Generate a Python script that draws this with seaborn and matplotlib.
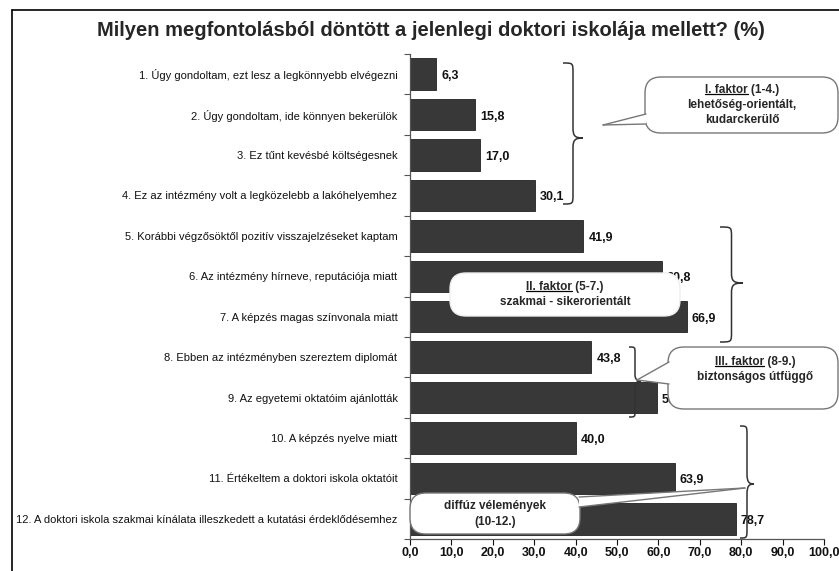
import matplotlib
matplotlib.use("Agg")
import matplotlib.pyplot as plt
import pandas as pd
import seaborn as sns
from matplotlib.path import Path as MPath
from matplotlib.patches import PathPatch, FancyBboxPatch, Polygon
from matplotlib.lines import Line2D
from matplotlib.transforms import Affine2D, IdentityTransform

# =========================
# Adatok
# =========================

labels = [
    "1. Úgy gondoltam, ezt lesz a legkönnyebb elvégezni",
    "2. Úgy gondoltam, ide könnyen bekerülök",
    "3. Ez tűnt kevésbé költségesnek",
    "4. Ez az intézmény volt a legközelebb a lakóhelyemhez",
    "5. Korábbi végzősöktől pozitív visszajelzéseket kaptam",
    "6. Az intézmény hírneve, reputációja miatt",
    "7. A képzés magas színvonala miatt",
    "8. Ebben az intézményben szereztem diplomát",
    "9. Az egyetemi oktatóim ajánlották",
    "10. A képzés nyelve miatt",
    "11. Értékeltem a doktori iskola oktatóit",
    "12. A doktori iskola szakmai kínálata illeszkedett a kutatási érdeklődésemhez",
]
values = [6.3, 15.8, 17.0, 30.1, 41.9, 60.8, 66.9, 43.8, 59.6, 40.0, 63.9, 78.7]
x_ticks = [0, 10, 20, 30, 40, 50, 60, 70, 80, 90, 100]

title = "Milyen megfontolásból döntött a jelenlegi doktori iskolája mellett? (%)"

W, H, DPI = 839, 571, 100
FONT = ["Liberation Sans", "DejaVu Sans"]
BAR_COLOR = "#383838"


def fmt(v):
    return f"{v:.1f}".replace(".", ",")


def draw_brace(fig, tr, x_left, x_tip, y_top, y_bot, y_mid, r=10):
    """Kapcsos zárójel pixelkoordinátákban (bal felső sarok az origó)."""
    xm = (x_left + x_tip) / 2
    verts = [
        (x_left, y_top),
        (xm, y_top), (xm, y_top), (xm, y_top + r),
        (xm, y_mid - r),
        (xm, y_mid - 2), (xm + 2, y_mid), (x_tip, y_mid),
        (xm + 2, y_mid), (xm, y_mid + 2), (xm, y_mid + r),
        (xm, y_bot - r),
        (xm, y_bot), (xm, y_bot), (x_left, y_bot),
    ]
    codes = [MPath.MOVETO] + [MPath.CURVE4] * 3 + [MPath.LINETO] + \
        [MPath.CURVE4] * 6 + [MPath.LINETO] + [MPath.CURVE4] * 3
    fig.add_artist(PathPatch(MPath(verts, codes), transform=tr, fill=False,
                             edgecolor="#333333", linewidth=1.1, zorder=8))


def draw_callout(fig, tr, box, tip=None, base=None, edge="#777777"):
    """Lekerekített szövegdoboz, opcionális ék alakú mutatóval."""
    x0, y0, x1, y1 = box
    fig.add_artist(FancyBboxPatch((x0, y0), x1 - x0, y1 - y0,
                                  boxstyle="round,pad=0,rounding_size=16",
                                  transform=tr, facecolor="white",
                                  edgecolor=edge, linewidth=1.0, zorder=9))
    if tip is not None:
        (bx0, by0), (bx1, by1) = base
        fig.add_artist(Polygon([(bx0, by0), tip, (bx1, by1)], closed=True,
                               transform=tr, facecolor="white",
                               edgecolor="none", zorder=10))
        for bx, by in base:
            fig.add_artist(Line2D([bx, tip[0]], [by, tip[1]], transform=tr,
                                  color=edge, linewidth=1.0, zorder=11))


def callout_text(fig, tr, cx, y, head, rest, lines, underlined):
    """Első sor: aláhúzott 'head' + 'rest', utána további sorok."""
    t = fig.text(cx, y, head + rest, transform=tr, ha="center", va="center",
                 fontsize=8.5, fontweight="bold", family=FONT, zorder=12)
    underlined.append((t, head))
    for i, line in enumerate(lines):
        fig.text(cx, y + 15 * (i + 1), line, transform=tr, ha="center",
                 va="center", fontsize=8.5, fontweight="bold", family=FONT,
                 zorder=12)


def main():
    sns.set_theme(style="white")
    plt.rcParams["font.family"] = FONT

    df = pd.DataFrame({"label": labels, "value": values})

    fig = plt.figure(figsize=(W / DPI, H / DPI), dpi=DPI)
    ax = fig.add_axes([410 / W, 1 - 539 / H, 414 / W, 485 / H])

    # pixel transzformáció (bal felső origó)
    tr = Affine2D().scale(1 / DPI, -1 / DPI).translate(0, H / DPI) + fig.dpi_scale_trans

    sns.barplot(data=df, x="value", y="label", orient="h", color=BAR_COLOR,
                saturation=1, width=0.78, edgecolor="#222222", linewidth=0.6,
                ax=ax)

    for i, v in enumerate(values):
        ax.text(v + 1.2, i + 0.05, fmt(v), ha="left", va="center", fontsize=9,
                fontweight="bold", color="#111111", zorder=7)

    ax.set_xlim(0, 100)
    ax.set_ylim(len(labels) - 0.5, -0.5)
    ax.set_xticks(x_ticks)
    ax.set_xticklabels([fmt(t) for t in x_ticks], fontsize=9,
                       fontweight="bold")
    ax.set_yticks(range(len(labels)))
    ax.set_yticklabels(labels, fontsize=8)
    ax.set_yticks([i - 0.5 for i in range(len(labels) + 1)], minor=True)
    ax.tick_params(axis="y", which="major", length=0, pad=9, colors="#111111")
    ax.tick_params(axis="y", which="minor", length=4, width=0.8,
                   direction="out", color="#555555", left=True)
    ax.tick_params(axis="x", length=4, width=0.8, direction="out", pad=2,
                   colors="#111111", bottom=True)
    ax.set_xlabel("")
    ax.set_ylabel("")
    sns.despine(ax=ax)
    for side in ("left", "bottom"):
        ax.spines[side].set_color("#555555")
        ax.spines[side].set_linewidth(0.9)

    # keret és cím
    fig.add_artist(Line2D([12, 12], [10, H], transform=tr, color="black", linewidth=1.2))
    fig.add_artist(Line2D([12, W], [10, 10], transform=tr, color="black", linewidth=1.2))
    fig.text(431, 31, title, transform=tr, ha="center", va="center",
             fontsize=14.5, fontweight="bold")

    # kapcsos zárójelek
    draw_brace(fig, tr, 563, 583, 63, 204, 138)
    draw_brace(fig, tr, 720, 743, 227, 342, 283)
    draw_brace(fig, tr, 629, 641, 347, 417, 381, r=6)
    draw_brace(fig, tr, 740, 754, 426, 538, 484)

    # szövegdobozok
    underlined = []
    draw_callout(fig, tr, (645, 77, 838, 133), tip=(603, 125),
                 base=[(646, 114), (646, 124)])
    callout_text(fig, tr, 742, 90, "I. faktor", " (1-4.)",
                 ["lehetőség-orientált,", "kudarckerülő"], underlined)

    draw_callout(fig, tr, (450, 273, 680, 316), edge="#eeeeee")
    callout_text(fig, tr, 565, 287, "II. faktor", " (5-7.)",
                 ["szakmai - sikerorientált"], underlined)

    draw_callout(fig, tr, (668, 347, 838, 409), tip=(637, 380),
                 base=[(669, 362), (669, 384)])
    callout_text(fig, tr, 755, 362, "III. faktor", " (8-9.)",
                 ["biztonságos útfüggő"], underlined)

    draw_callout(fig, tr, (410, 493, 580, 534), tip=(745, 488),
                 base=[(579, 497), (579, 507)])
    fig.text(495, 506, "diffúz vélemények", transform=tr, ha="center",
             va="center", fontsize=8.5, fontweight="bold", zorder=12)
    fig.text(495, 522, "(10-12.)", transform=tr, ha="center",
             va="center", fontsize=8.5, fontweight="bold", zorder=12)

    # aláhúzások a faktor neveknél
    fig.canvas.draw()
    renderer = fig.canvas.get_renderer()
    for t, head in underlined:
        full = t.get_window_extent(renderer)
        probe = fig.text(0, 0, head, fontsize=8.5, fontweight="bold")
        w = probe.get_window_extent(renderer).width
        probe.remove()
        fig.add_artist(Line2D([full.x0, full.x0 + w], [full.y0 + 2, full.y0 + 2],
                              transform=IdentityTransform(), color="black",
                              linewidth=0.9, zorder=12))

    fig.savefig("out.png", dpi=DPI)
    plt.close(fig)


if __name__ == "__main__":
    main()
